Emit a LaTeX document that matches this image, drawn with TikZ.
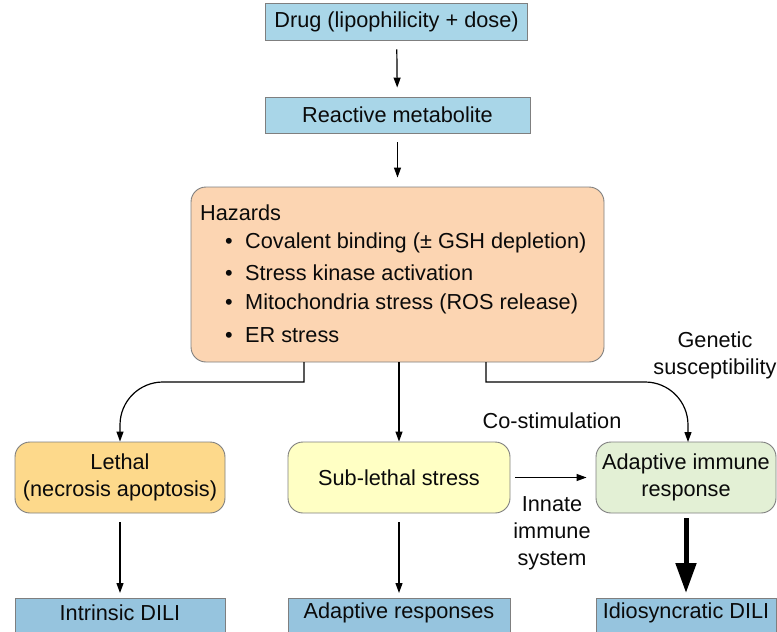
\documentclass[tikz,border=0pt]{standalone}
\usepackage{fontspec}
\setmainfont{Liberation Sans}
\usetikzlibrary{arrows.meta}
\definecolor{topblue}{HTML}{A9D6E8}
\definecolor{botblue}{HTML}{96C4DE}
\definecolor{peach}{HTML}{FCD5B2}
\definecolor{lethalc}{HTML}{FDD98B}
\definecolor{subc}{HTML}{FFFFC4}
\definecolor{adaptc}{HTML}{E3F0D5}
\definecolor{edge}{HTML}{7F7F7F}
\definecolor{ink}{HTML}{0A0A0A}
\tikzset{
  base/.style={draw=edge, line width=0.9pt, inner sep=0pt, font=\fontsize{21.7}{27}\selectfont, text=ink, align=center},
  sqbox/.style={base, rectangle},
  rbox/.style={base, rounded corners=15pt},
  lbl/.style={inner sep=0pt, font=\fontsize{21.7}{27}\selectfont, text=ink, align=center},
  arr/.style={draw=black, line width=1.2pt, -{Triangle[length=10pt,width=7pt]}},
  bigarr/.style={draw=black, line width=5pt, -{Triangle[length=30pt,width=20pt]}}
}
\begin{document}
\begin{tikzpicture}[x=1pt,y=-1pt]
\useasboundingbox (0,0) rectangle (777,632);
% top boxes
\node[sqbox, fill=topblue, minimum width=262pt, minimum height=37pt] (drug) at (396.5,21.5) {Drug (lipophilicity + dose)};
\node[sqbox, fill=topblue, minimum width=265pt, minimum height=36pt] (react) at (397.5,115) {Reactive metabolite};
% hazards
\node[rbox, fill=peach, minimum width=413pt, minimum height=175pt] (haz) at (397.5,274.5) {};
\node[lbl, anchor=west] (hz0) at (200,213) {Hazards};
\node[lbl, anchor=west] (hz1) at (225,243) {\makebox[20pt][l]{•}Covalent binding (± GSH depletion)};
\node[lbl, anchor=west] (hz2) at (225,273) {\makebox[20pt][l]{•}Stress kinase activation};
\node[lbl, anchor=west] (hz3) at (225,304) {\makebox[20pt][l]{•}Mitochondria stress (ROS release)};
\node[lbl, anchor=west] (hz4) at (225,335) {\makebox[20pt][l]{•}ER stress};
% middle row
\node[rbox, fill=lethalc, minimum width=210pt, minimum height=71pt] (lethal) at (120,477.5) {Lethal\\(necrosis apoptosis)};
\node[rbox, fill=subc, minimum width=222pt, minimum height=71pt] (sub) at (399,477.5) {Sub-lethal stress};
\node[rbox, fill=adaptc, minimum width=180pt, minimum height=71pt] (adapt) at (686,477.5) {Adaptive immune\\response};
% bottom row (cut by the page edge)
\node[sqbox, fill=botblue, minimum width=210pt, minimum height=50pt, anchor=north] (intr) at (120,598) {};
\node[sqbox, fill=botblue, minimum width=222pt, minimum height=50pt, anchor=north] (adresp) at (399,598) {};
\node[sqbox, fill=botblue, minimum width=180pt, minimum height=50pt, anchor=north] (idio) at (686,598) {};
\node[lbl] (intrt) at (120,613) {Intrinsic DILI};
\node[lbl] (adrespt) at (399,613) {Adaptive responses};
\node[lbl] (idiot) at (686,613) {Idiosyncratic DILI};
% labels
\node[lbl] (gen) at (715,355) {Genetic\\susceptibility};
\node[lbl] (costim) at (552,421) {Co-stimulation};
\node[lbl] (innate) at (552,533) {Innate\\immune\\system};
% connectors
\coordinate (hl) at (304,362);
\coordinate (hr) at (486,362);
\draw[arr, shorten <=9pt, shorten >=9pt] (drug) -- (react);
\draw[arr, shorten <=9pt, shorten >=9pt] (react) -- (haz.north -| react.south);
\draw[arr] (hl) -- (304,382) -- (163,382) to[out=180,in=90] (lethal.north |- 0,425) -- (lethal.north);
\draw[arr] (haz.south -| sub.north) -- (sub.north);
\draw[arr] (hr) -- (486,382) -- (645,382) to[out=0,in=90] (688,425) -- (688,442);
\draw[arr, shorten <=5pt, shorten >=9pt] (sub.east) -- (adapt.west);
\draw[arr, shorten <=9pt, shorten >=5pt] (lethal.south) -- (intr.north);
\draw[arr, shorten <=9pt, shorten >=5pt] (sub.south) -- (adresp.north);
\draw[bigarr, shorten <=5pt, shorten >=5pt] (adapt.south) -- (idio.north);
\end{tikzpicture}
\end{document}
